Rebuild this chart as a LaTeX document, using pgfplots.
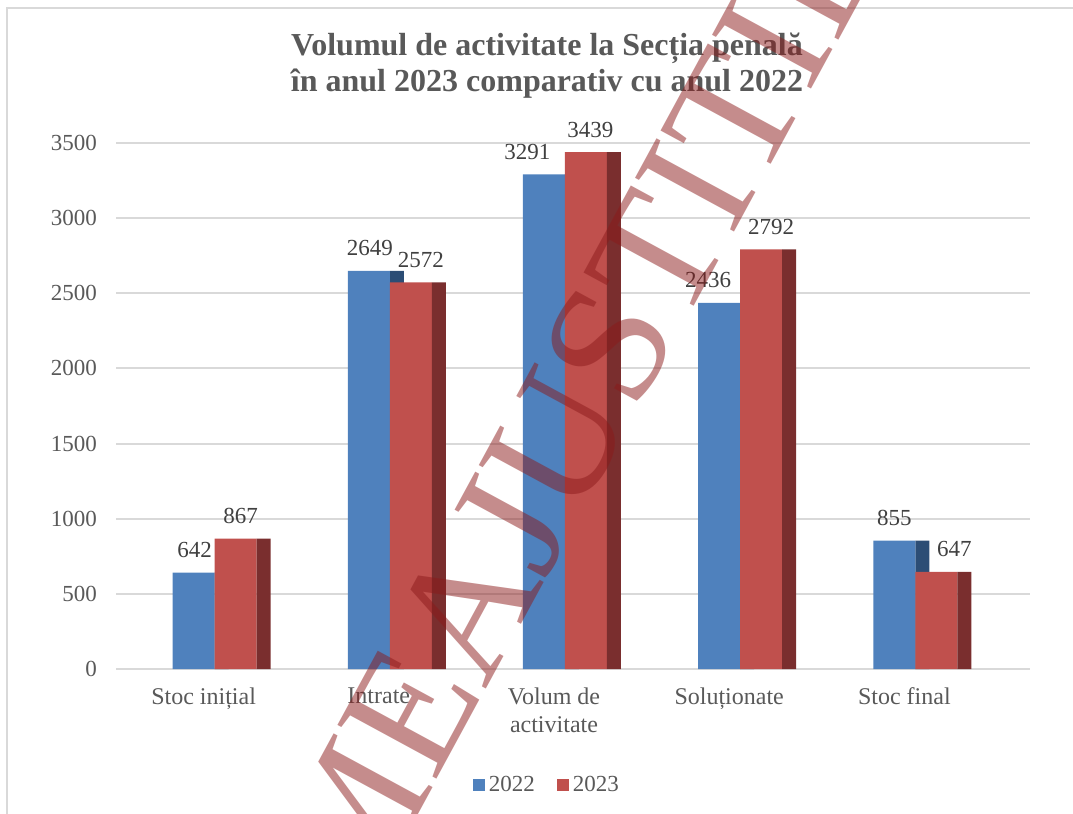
\documentclass[border=0pt]{standalone}
\usepackage{fontspec}
\setmainfont{Liberation Serif}
\usepackage{pgfplots}
\usepackage{pgfplotstable}
\pgfplotsset{compat=1.18}
\definecolor{c22}{HTML}{4F81BD}
\definecolor{c23}{HTML}{C0504D}
\definecolor{c22s}{HTML}{2C4D75}
\definecolor{c23s}{HTML}{7A2E2E}
\definecolor{gridc}{HTML}{D9D9D9}
\definecolor{txt}{HTML}{595959}
\definecolor{lbl}{HTML}{404040}
\definecolor{wm}{HTML}{8B1A1A}

\pgfplotstableread{
x y2022 y2023 dxa dxb
0 642  867  -4.5   18.5
1 2649 2572 -4.5   21
2 3291 3439 -13.25 18.25
3 2436 2792 -10.5  21
4 855  647  -5     25
}\datatable

\begin{document}
\begin{tikzpicture}
\path[use as bounding box] (0,0) rectangle (536.5pt,-407pt);
\draw[gridc, line width=1pt] (3.5pt,-410pt) -- (3.5pt,-4pt) -- (540pt,-4pt);
\node[font=\bfseries\fontsize{16}{18}\selectfont, text=txt, align=center] at (273.5pt,-33pt)
  {Volumul de activitate la Secția penală\\în anul 2023 comparativ cu anul 2022};
\begin{axis}[
  at={(58pt,-334.5pt)}, anchor=south west,
  scale only axis, width=457pt, height=263pt,
  xmin=-0.5, xmax=4.717, ymin=0, ymax=3500,
  axis line style={draw=none},
  major tick length=0pt,
  ymajorgrids, grid style={gridc, line width=1pt},
  xtick={0,1,2,3,4},
  xticklabels={Stoc inițial, Intrate, {Volum de\\activitate}, Soluționate, Stoc final},
  ytick={0,500,...,3500},
  scaled ticks=false,
  /pgf/number format/1000 sep={},
  /pgf/number format/assume math mode=true,
  xticklabel style={align=center, anchor=north, yshift=-5.7pt, text=txt, font=\fontsize{12}{14}\selectfont},
  yticklabel style={xshift=-6pt, text=txt, font=\fontsize{11.5}{13}\selectfont},
  legend style={at={(0.4726,-0.2205)}, anchor=center, draw=none, fill=none,
    legend columns=2, font=\fontsize{11.5}{13}\selectfont, text=txt,
    /tikz/every even column/.append style={column sep=9pt}},
  legend image code/.code={\fill[#1] (0pt,-3pt) rectangle (6pt,3pt);},
  every node near coord/.append style={anchor=base, yshift=7.5pt, text=lbl, font=\fontsize{11.5}{13}\selectfont},
]
\addplot[ybar, bar width=7pt, bar shift=9pt, fill=c22s, draw=none, forget plot]
  table[x=x, y=y2022]{\datatable};
\addplot[ybar, bar width=21pt, bar shift=-5pt, fill=c22, draw=none,
  nodes near coords, visualization depends on={\thisrow{dxa} \as \dx},
  every node near coord/.append style={xshift=\dx pt}]
  table[x=x, y=y2022]{\datatable};
\addlegendentry{2022}
\addplot[ybar, bar width=21pt, bar shift=16pt, fill=c23, draw=none,
  nodes near coords, visualization depends on={\thisrow{dxb} \as \dx},
  every node near coord/.append style={xshift=\dx pt}]
  table[x=x, y=y2023]{\datatable};
\addlegendentry{2023}
\addplot[ybar, bar width=7pt, bar shift=30pt, fill=c23s, draw=none, forget plot]
  table[x=x, y=y2023]{\datatable};
\end{axis}
\begin{scope}
\clip (0,0) rectangle (536.5pt,-407pt);
\node[rotate=61.5, text=wm, text opacity=0.5, font=\fontsize{86}{86}\selectfont, inner sep=0pt]
  at (266.9pt,-241.8pt) {LUMEAJUSTITIEI};
\end{scope}
\end{tikzpicture}
\end{document}
